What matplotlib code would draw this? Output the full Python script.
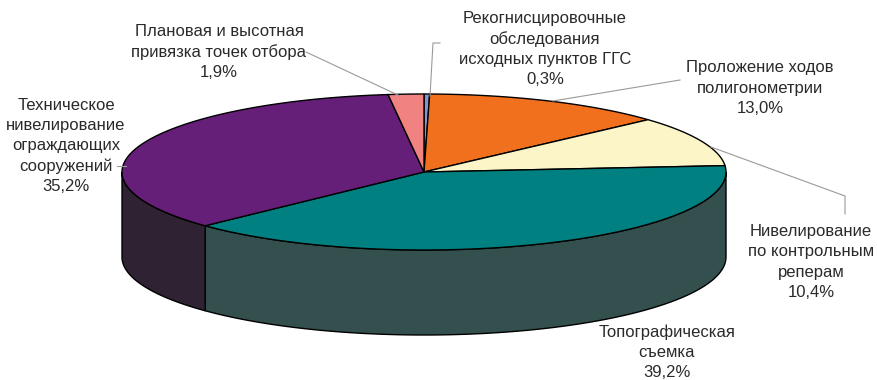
import numpy as np
import matplotlib.pyplot as plt
from matplotlib.patches import Polygon

plt.rcParams['font.family'] = ['Liberation Sans', 'DejaVu Sans']

# shares of work types, clockwise from 12 o'clock
labels = ['Рекогнисцировочные\nобследования\nисходных пунктов ГГС',
          'Проложение ходов\nполигонометрии',
          'Нивелирование\nпо контрольным\nреперам',
          'Топографическая\nсъемка',
          'Техническое\nнивелирование\nограждающих\nсооружений',
          'Плановая и высотная\nпривязка точек отбора']
values = [0.3, 13.0, 10.4, 39.2, 35.2, 1.9]
top_colors = ['#8595d0', '#f0701e', '#fcf5c8', '#008080', '#661f78', '#f08282']
side_colors = ['#4a5270', '#803c10', '#8a8670', '#33504e', '#2e2233', '#804444']

# label positions (pixels) and leader lines
label_xy = [(545, 49), (760, 88), (811, 262), (667, 352), (66, 146), (219, 52)]
leaders = [[(440, 43), (433, 43), (430, 96)],
           [(680, 80), (553, 101)],
           [(711, 147), (845, 196), (845, 214)],
           None,
           [(117, 166), (126, 166)],
           [(306, 52), (400, 96)]]

cx, cy, a, b, h = 424, 172, 302, 78, 85

fig = plt.figure(figsize=(8.78, 3.80), dpi=100)
ax = fig.add_axes([0, 0, 1, 1])
ax.set_xlim(0, 878)
ax.set_ylim(380, 0)
ax.axis('off')


def rim(t):
    r = np.radians(t)
    return cx + a * np.cos(r), cy - b * np.sin(r)


total = sum(values)
cum = np.concatenate([[0], np.cumsum(values)]) / total * 360
spans = [(90 - cum[i + 1], 90 - cum[i]) for i in range(len(values))]

# front wall of the cylinder
for (lo, hi), col in zip(spans, side_colors):
    for shift in (0, 360):
        s0, s1 = max(lo + shift, -180), min(hi + shift, 0)
        if s1 <= s0:
            continue
        t = np.linspace(s0, s1, 120)
        x, y = rim(t)
        pts = np.column_stack([np.r_[x, x[::-1]], np.r_[y, (y + h)[::-1]]])
        ax.add_patch(Polygon(pts, closed=True, fc=col, ec='black', lw=1.0))

# top face
for (lo, hi), col in zip(spans, top_colors):
    t = np.linspace(lo, hi, max(int(hi - lo) * 2, 4))
    x, y = rim(t)
    pts = np.column_stack([np.r_[cx, x], np.r_[cy, y]])
    ax.add_patch(Polygon(pts, closed=True, fc=col, ec='black', lw=1.0,
                         joinstyle='round'))

for lab, v, (lx, ly), ld in zip(labels, values, label_xy, leaders):
    txt = lab + '\n' + f'{v:.1f}%'.replace('.', ',')
    ax.text(lx, ly, txt, ha='center', va='center', fontsize=12,
            color='#2a2a2a', linespacing=1.42)
    if ld:
        xs, ys = zip(*ld)
        ax.plot(xs, ys, color='#9a9a9a', lw=0.8)

fig.savefig('out.png', dpi=100)
